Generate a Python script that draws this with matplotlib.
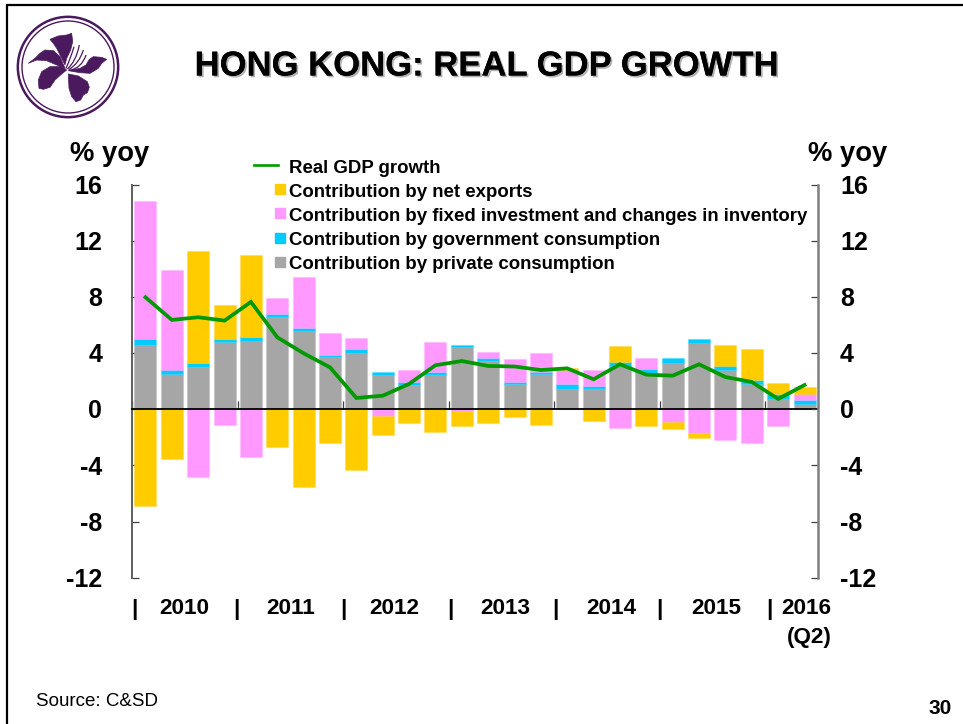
import numpy as np
import matplotlib
matplotlib.use("Agg")
import matplotlib.pyplot as plt
import matplotlib.patheffects as pe
from matplotlib.colors import to_rgba
from matplotlib.legend_handler import HandlerBase, HandlerPatch
from matplotlib.lines import Line2D
from matplotlib.patches import Circle, Polygon, Rectangle, PathPatch
from matplotlib.path import Path
from matplotlib.transforms import ScaledTranslation

plt.rcParams["font.family"] = ["Liberation Sans", "DejaVu Sans"]
plt.rcParams["axes.unicode_minus"] = False

W, H = 963, 724

# Quarterly contributions to real GDP growth, 2010 Q1 - 2016 Q2 (% yoy)
quarters = [f"{y}Q{q}" for y in range(2010, 2016) for q in (1, 2, 3, 4)] + ["2016Q1", "2016Q2"]
private_consumption = [4.58, 2.49, 2.99, 4.82, 4.87, 6.60, 5.58, 3.71, 3.99, 2.42, 1.71, 2.42, 4.42,
                       3.42, 1.78, 2.49, 1.47, 1.47, 3.09, 2.59, 3.30, 4.70, 2.80, 1.81, 0.76, 0.40]
government_consumption = [0.40, 0.29, 0.29, 0.17, 0.31, 0.19, 0.21, 0.17, 0.29, 0.26, 0.26, 0.26, 0.17,
                          0.26, 0.19, 0.19, 0.31, 0.21, 0.31, 0.29, 0.38, 0.31, 0.29, 0.28, 0.33, 0.26]
fixed_investment = [9.83, 7.12, -4.80, -1.12, -3.42, 1.12, 3.63, 1.55, 0.83, -0.50, 0.83, 2.12, -0.12,
                    0.41, 1.62, 1.33, 1.02, 1.12, -1.33, 0.81, -0.88, -1.71, -2.21, -2.42, -1.21, 0.43]
net_exports = [-6.91, -3.52, 8.03, 2.42, 5.84, -2.71, -5.53, -2.42, -4.32, -1.33, -1.00, -1.59, -1.09,
               -1.00, -0.52, -1.12, 0.12, -0.81, 1.12, -1.21, -0.52, -0.31, 1.50, 2.21, 0.78, 0.50]
real_gdp_growth = [7.98, 6.37, 6.56, 6.32, 7.65, 5.13, 3.99, 2.99, 0.81, 0.97, 1.81, 3.14, 3.44,
                   3.09, 3.05, 2.80, 2.92, 2.14, 3.21, 2.47, 2.40, 3.21, 2.30, 1.95, 0.74, 1.73]

year_labels = ["2010", "2011", "2012", "2013", "2014", "2015", "2016\n(Q2)"]
year_label_pos = [1.96, 6.0, 9.95, 14.15, 18.15, 22.15, 26.53]
year_separator_pos = [0.07, 3.96, 8.02, 12.07, 16.06, 20.0, 24.17]
y_ticks = [-12, -8, -4, 0, 4, 8, 12, 16]

GREY, CYAN, PINK, GOLD, GREEN = "#A6A6A6", "#00CCFF", "#FF99FF", "#FFCC00", "#009900"
series = [
    (private_consumption, GREY, "Contribution by private consumption"),
    (government_consumption, CYAN, "Contribution by government consumption"),
    (fixed_investment, PINK, "Contribution by fixed investment and changes in inventory"),
    (net_exports, GOLD, "Contribution by net exports"),
]

fig = plt.figure(figsize=(W / 100, H / 100), dpi=100, facecolor="white")


def fx(px):
    return px / W


def fy(py):
    return 1 - py / H


# Slide frame: rule along the top and down the left side
fig.add_artist(Line2D([fx(7), fx(7), 1], [0, fy(5), fy(5)], color="black", lw=1.6, solid_joinstyle="miter"))

# Chart area
L, R, T, B = 132.3, 817.7, 184.7, 577.8
ax = fig.add_axes([fx(L), fy(B), fx(R - L), (B - T) / H])
ax.set_xlim(0, 26)
ax.set_ylim(-12, 16)
x = np.arange(len(quarters)) + 0.5

pos_base = np.zeros(len(x))
neg_base = np.zeros(len(x))
for values, color, label in series:
    v = np.array(values)
    base = np.where(v >= 0, pos_base, neg_base)
    ax.bar(x, v, 0.835, bottom=base, color=color, edgecolor=to_rgba(color, 0.22), linewidth=1.0,
           label=label, zorder=2)
    pos_base += np.clip(v, 0, None)
    neg_base += np.clip(v, None, 0)

line, = ax.plot(x, real_gdp_growth, color=GREEN, lw=2.7, solid_joinstyle="miter", zorder=4,
                label="Real GDP growth")

# Zero line carries the year separators
ax.spines["top"].set_visible(False)
ax.spines["bottom"].set_position(("data", 0))
ax.spines["bottom"].set_color("black")
ax.spines["bottom"].set_linewidth(1.3)
ax.spines["bottom"].set_zorder(5)
ax.spines["right"].set_visible(False)
ax.spines["left"].set_color("#5F5F5F")
ax.spines["left"].set_linewidth(1.4)
ax.set_xticks(range(0, 25, 4))
ax.tick_params(axis="x", direction="in", length=5.8, width=0.9, color="#404040", labelbottom=False)
ax.set_yticks(y_ticks)
ax.tick_params(axis="y", direction="in", length=5, width=0.9, color="#404040", pad=21.6, labelsize=18)

ax2 = ax.twinx()
ax2.set_ylim(-12, 16)
for side in ("top", "left", "bottom"):
    ax2.spines[side].set_visible(False)
ax2.spines["right"].set_color("#7F7F7F")
ax2.spines["right"].set_linewidth(1.8)
ax2.set_yticks(y_ticks)
ax2.tick_params(axis="y", direction="in", length=5, width=0.9, color="#404040", pad=16, labelsize=18)

# Digits sit a little low so they centre on their ticks
nudge = ScaledTranslation(0, -1.5 / 72, fig.dpi_scale_trans)
for t in ax.get_yticklabels() + ax2.get_yticklabels():
    t.set_fontweight("bold")
    t.set_va("center")
    t.set_transform(t.get_transform() + nudge)

# Year labels and separators under the plot
trans = ax.get_xaxis_transform()
label_y = -(609 - B) / (B - T)
label_top = -(598 - B) / (B - T)
for pos, text in zip(year_label_pos, year_labels):
    if "\n" in text:
        ax.text(pos, label_top, text, transform=trans, ha="right", va="top", ma="right",
                fontsize=16.2, fontweight="bold", linespacing=1.5)
    else:
        ax.text(pos, label_y, text, transform=trans, ha="center", va="center",
                fontsize=16.2, fontweight="bold")
for pos in year_separator_pos:
    ax.text(pos, label_y, "|", transform=trans, ha="center", va="center", fontsize=16.2, fontweight="bold")


class ShortLineHandler(HandlerBase):
    """Line key that stops short of the right end of the handle box."""

    def create_artists(self, legend, orig_handle, xdescent, ydescent, width, height, fontsize, trans):
        y = (height - ydescent) / 2 + 1
        art = Line2D([-xdescent, -xdescent + width * 0.78], [y, y], color=orig_handle.get_color(), lw=1.9,
                     transform=trans)
        return [art]


def square_key(legend, orig_handle, xdescent, ydescent, width, height, fontsize):
    side = width * 0.32
    return Rectangle((width - side - xdescent, (height - side) / 2 - ydescent + 0.5), side, side)


names = ["Real GDP growth", series[3][2], series[2][2], series[1][2], series[0][2]]
keys = [Rectangle((0, 0), 1, 1, color=c) for c in (GOLD, PINK, CYAN, GREY)]
hmap = {k: HandlerPatch(patch_func=square_key) for k in keys}
hmap[line] = ShortLineHandler()
leg = ax.legend([line] + keys, names, handler_map=hmap, loc="upper left",
                bbox_to_anchor=(fx(254), fy(159.5)), bbox_transform=fig.transFigure,
                frameon=False, borderpad=0, borderaxespad=0,
                handlelength=1.675, handletextpad=0.22, labelspacing=0.38,
                prop={"weight": "bold", "size": 13.38})
leg.set_zorder(6)

# Headings and footer
title = fig.text(fx(486.5), fy(66), "HONG KONG: REAL GDP GROWTH", ha="center", va="center",
                 fontsize=24.95, fontweight="bold", color="black")
title.set_path_effects([pe.withSimplePatchShadow(offset=(1.3, -1.3), shadow_rgbFace="#808080", alpha=0.6),
                        pe.Normal()])
fig.text(fx(109.5), fy(154), "% yoy", ha="center", va="center", fontsize=19.7, fontweight="bold")
fig.text(fx(848), fy(154), "% yoy", ha="center", va="center", fontsize=19.7, fontweight="bold")
fig.text(fx(36), fy(701), "Source: C&SD", ha="left", va="center", fontsize=13.5)
fig.text(fx(952), fy(709), "30", ha="right", va="center", fontsize=15, fontweight="bold")

# Emblem: double ring around a five-petal bauhinia, on a 3x pixel grid
PURPLE = "#4B1A5E"
logo = fig.add_axes([0, fy(160), fx(160), 160 / H], zorder=3)
logo.set_xlim(0, 480)
logo.set_ylim(480, 0)
logo.axis("off")
logo.add_patch(Circle((204, 201), 150.5, fill=False, ec=PURPLE, lw=1.8))
logo.add_patch(Circle((204, 201), 138, fill=False, ec=PURPLE, lw=1.0))
petals = [
    [(150, 118), (175, 108), (200, 105), (215, 100), (218, 125), (212, 150), (200, 175), (195, 195), (185, 175),
     (170, 145), (160, 130)],
    [(85, 190), (105, 175), (120, 160), (135, 150), (160, 152), (180, 170), (195, 205), (170, 195), (140, 182),
     (110, 180)],
    [(320, 178), (305, 172), (280, 170), (268, 178), (258, 195), (240, 205), (205, 212), (240, 218), (270, 220),
     (295, 205), (305, 190)],
    [(117, 265), (115, 240), (125, 215), (150, 200), (185, 200), (200, 210), (185, 222), (165, 240), (150, 262),
     (130, 268)],
    [(205, 222), (235, 228), (262, 245), (268, 262), (262, 278), (250, 285), (242, 300), (228, 305), (215, 290),
     (207, 265)],
]
for petal in petals:
    logo.add_patch(Polygon(petal, closed=True, fc=PURPLE, ec=PURPLE, lw=0.5, joinstyle="round"))
stamens = [
    ((198, 205), (212, 175), (222, 140)),
    ((202, 207), (228, 185), (238, 135)),
    ((206, 209), (238, 190), (250, 150)),
    ((208, 211), (245, 205), (258, 165)),
]
for a, b, c in stamens:
    path = Path([a, b, c], [Path.MOVETO, Path.CURVE3, Path.CURVE3])
    logo.add_patch(PathPatch(path, fc="none", ec=PURPLE, lw=0.9))

fig.savefig("out.png", dpi=100)
